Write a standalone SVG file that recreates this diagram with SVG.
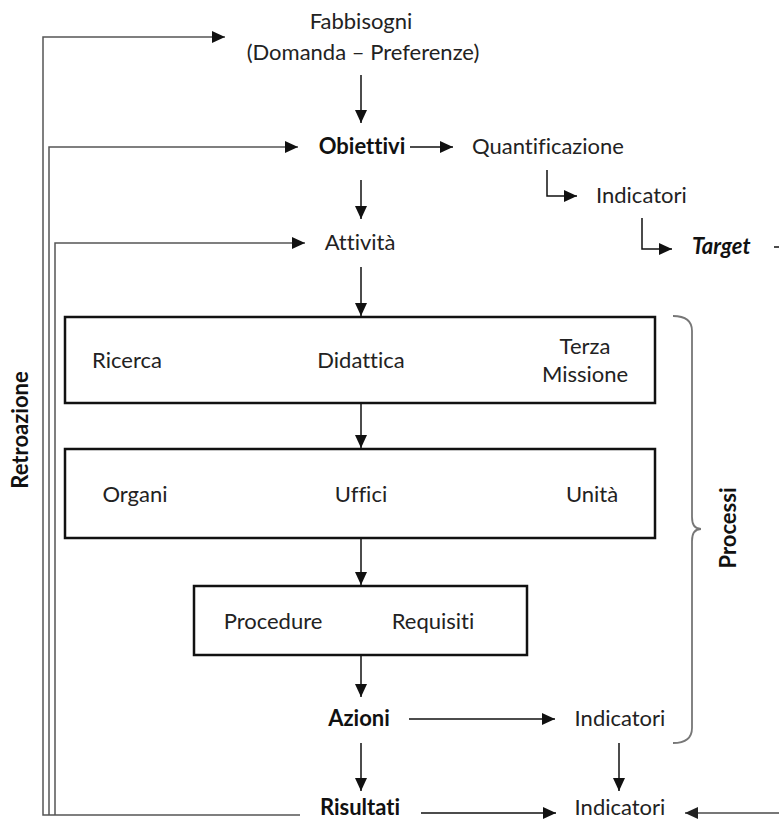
<svg xmlns="http://www.w3.org/2000/svg" width="779" height="820" viewBox="0 0 779 820">
<style>
  text { font-family: Lato, "Open Sans", sans-serif; font-size: 22px; fill: #222; font-variant-ligatures: none; }
  .c { text-anchor: middle; }
  .b { font-weight: bold; fill: #111; }
  .bi { font-weight: bold; font-style: italic; fill: #111; }
  .ln { stroke: #111; stroke-width: 1.5; fill: none; }
  .fb { stroke: #555; stroke-width: 1.5; fill: none; }
  .gr { stroke: #777; stroke-width: 1.8; fill: none; }
  .box { fill: #fff; stroke: #111; stroke-width: 2.5; }
</style>
<defs>
  <marker id="ah" markerUnits="userSpaceOnUse" markerWidth="13" markerHeight="12" refX="13" refY="6" orient="auto">
    <path d="M0,0 L13,6 L0,12 z" fill="#111"/>
  </marker>
  <marker id="ahg" markerUnits="userSpaceOnUse" markerWidth="13" markerHeight="12" refX="13" refY="6" orient="auto">
    <path d="M0,0 L13,6 L0,12 z" fill="#222"/>
  </marker>
</defs>
<rect width="779" height="820" fill="#fff"/>

<g id="connectors">
  <path class="fb" d="M300,815 L43,815 L43,37 L225,37" marker-end="url(#ah)"/>
  <path class="fb" d="M49,815 L49,147 L298,147" marker-end="url(#ah)"/>
  <path class="fb" d="M55,815 L55,243 L305,243" marker-end="url(#ah)"/>
  <line class="ln" x1="361" y1="75" x2="361" y2="123" marker-end="url(#ah)"/>
  <line class="ln" x1="361" y1="180" x2="361" y2="219" marker-end="url(#ah)"/>
  <line class="ln" x1="361" y1="267" x2="361" y2="316" marker-end="url(#ah)"/>
  <line class="ln" x1="361" y1="403" x2="361" y2="448" marker-end="url(#ah)"/>
  <line class="ln" x1="361" y1="538" x2="361" y2="585" marker-end="url(#ah)"/>
  <line class="ln" x1="361" y1="655" x2="361" y2="697" marker-end="url(#ah)"/>
  <line class="ln" x1="361" y1="743" x2="361" y2="791" marker-end="url(#ah)"/>
  <line class="ln" x1="410" y1="147" x2="453" y2="147" marker-end="url(#ah)"/>
  <path class="ln" d="M547,170 L547,196 L577,196" marker-end="url(#ah)"/>
  <path class="ln" d="M642,218 L642,249 L672,249" marker-end="url(#ah)"/>
  <line class="ln" x1="774" y1="247" x2="781" y2="247"/>
  <line class="ln" x1="409" y1="719" x2="555" y2="719" marker-end="url(#ah)"/>
  <line class="ln" x1="619" y1="743" x2="619" y2="791" marker-end="url(#ah)"/>
  <line class="ln" x1="421" y1="813" x2="556" y2="813" marker-end="url(#ah)"/>
  <line class="gr" x1="790" y1="813" x2="685" y2="813" marker-end="url(#ahg)"/>
  <path class="gr" d="M673,316 Q692,316 692,331 L692,517 Q692,529 701,529 Q692,529 692,541 L692,728 Q692,743 673,743"/>
</g>

<g id="fabbisogni">
  <text class="c" x="361" y="29">Fabbisogni</text>
  <text class="c" x="363" y="60">(Domanda – Preferenze)</text>
</g>
<g id="obiettivi"><text class="b c" x="362" y="154">Obiettivi</text></g>
<g id="quantificazione"><text x="472" y="154">Quantificazione</text></g>
<g id="indicatori-top"><text x="596" y="203">Indicatori</text></g>
<g id="target"><text class="bi" x="692" y="254">Target</text></g>
<g id="attivita"><text class="c" x="360" y="250">Attività</text></g>

<g id="box-attivita">
  <rect class="box" x="65" y="317" width="590" height="86"/>
  <text class="c" x="127" y="368">Ricerca</text>
  <text class="c" x="361" y="368">Didattica</text>
  <text class="c" x="585" y="354">Terza</text>
  <text class="c" x="585" y="382">Missione</text>
</g>
<g id="box-struttura">
  <rect class="box" x="65" y="449" width="590" height="89"/>
  <text class="c" x="135" y="502">Organi</text>
  <text class="c" x="361" y="502">Uffici</text>
  <text class="c" x="592" y="502">Unità</text>
</g>
<g id="box-procedure">
  <rect class="box" x="194" y="586" width="333" height="69"/>
  <text class="c" x="273" y="629">Procedure</text>
  <text class="c" x="433" y="629">Requisiti</text>
</g>

<g id="azioni"><text class="b c" x="359" y="726">Azioni</text></g>
<g id="indicatori-mid"><text class="c" x="620" y="726">Indicatori</text></g>
<g id="risultati"><text class="b c" x="360" y="815">Risultati</text></g>
<g id="indicatori-bottom"><text class="c" x="620" y="815">Indicatori</text></g>

<g id="processi"><text class="b c" transform="translate(736,528) rotate(-90)">Processi</text></g>
<g id="retroazione"><text class="b c" transform="translate(28,430) rotate(-90)">Retroazione</text></g>
</svg>
